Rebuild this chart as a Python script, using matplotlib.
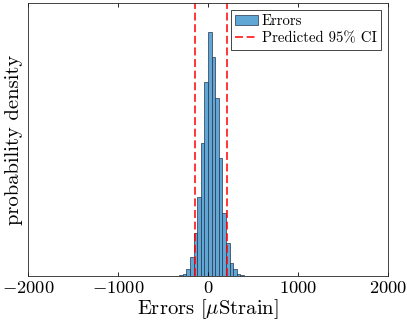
import numpy as np
import matplotlib
matplotlib.use("Agg")
import matplotlib.pyplot as plt
from matplotlib.patches import Patch
from matplotlib.lines import Line2D

plt.rcParams['font.family'] = 'serif'
plt.rcParams['font.serif'] = ['cmr10', 'DejaVu Serif']
plt.rcParams['mathtext.fontset'] = 'cm'
plt.rcParams['axes.unicode_minus'] = False
plt.rcParams['axes.formatter.use_mathtext'] = True

# histogram bins (microstrain) and relative bar heights
bin_edges = [-360, -320, -280, -240, -200, -160, -120, -80, -40, 0,
             40, 80, 120, 160, 200, 240, 280, 320, 360, 400]
counts = [1, 2, 6, 20, 56, 131, 238, 401, 583, 735,
          660, 536, 355, 191, 100, 38, 20, 6, 2]
ci_bounds = [-143, 213]

edges = np.array(bin_edges, dtype=float)
widths = np.diff(edges)
dens = np.array(counts, dtype=float) / (np.sum(counts) * widths)

bar_col = (0.38, 0.655, 0.84)
edge_col = (0.15, 0.2, 0.3)
dash = (0, (5.2, 2.4))

fig = plt.figure(figsize=(4.07, 3.26), dpi=100)
ax = fig.add_axes([0.069, 0.153, 0.884, 0.837])

ax.bar(edges[:-1], dens, width=widths, align='edge',
       color=bar_col, edgecolor=edge_col, linewidth=0.5)
for x in ci_bounds:
    ax.axvline(x, color='red', linestyle=dash, linewidth=1.1)

ax.set_xlim(-2000, 2000)
ax.set_ylim(0, dens.max() * 820 / 735)
ax.set_xticks([-2000, -1000, 0, 1000, 2000])
ax.set_yticks([])
ax.tick_params(axis='x', direction='in', top=True, labelsize=13.3, length=3,
               width=0.6, pad=3)
for s in ax.spines.values():
    s.set_linewidth(0.6)
    s.set_color('#262626')

ax.set_xlabel(r'Errors [$\mu$Strain]', fontsize=14.8, labelpad=1)
ax.set_ylabel('probability density', fontsize=14.8, labelpad=4)

handles = [Patch(facecolor=bar_col, edgecolor=edge_col, linewidth=0.5),
           Line2D([0], [0], color='red', linestyle=dash, linewidth=1.1)]
leg = ax.legend(handles, ['Errors', 'Predicted 95% CI'], loc='upper right',
                fontsize=10.7, fancybox=False, framealpha=1, borderpad=0.3,
                handlelength=1.55, handletextpad=0.25, labelspacing=0.25,
                borderaxespad=0.45)
leg.get_frame().set_edgecolor('#262626')
leg.get_frame().set_linewidth(0.6)

fig.savefig('out.png', dpi=100)
